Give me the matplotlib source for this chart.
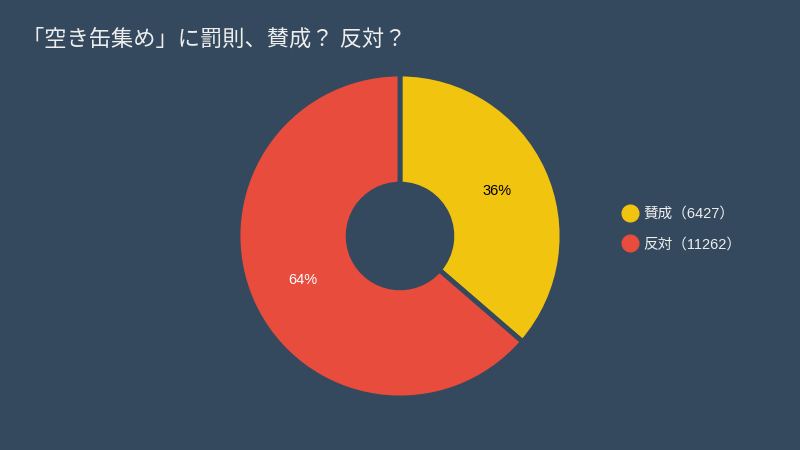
import matplotlib
matplotlib.use("Agg")
import matplotlib.pyplot as plt
from matplotlib.lines import Line2D

plt.rcParams['font.family'] = ['Liberation Sans', 'Noto Sans CJK JP', 'DejaVu Sans']

# data
labels = ["賛成", "反対"]
values = [6427, 11262]
colors = ["#f1c40f", "#e74c3c"]
pct_colors = ["#000000", "#ffffff"]
title = "「空き缶集め」に罰則、賛成？ 反対？"

bg = "#34495e"

fig = plt.figure(figsize=(8, 4.5), dpi=100)
fig.patch.set_facecolor(bg)

ax = fig.add_axes([0.2975, 0.1156, 0.405, 0.72])
ax.set_facecolor(bg)

wedges, texts, autotexts = ax.pie(
    values, colors=colors, startangle=90, counterclock=False,
    radius=1, autopct="%1.0f%%", pctdistance=0.66,
    wedgeprops=dict(width=0.68, edgecolor=bg, linewidth=3.5),
    textprops=dict(fontsize=10.5),
)
for t, c in zip(autotexts, pct_colors):
    t.set_color(c)
ax.set_xlim(-1, 1)
ax.set_ylim(-1, 1)
ax.set_aspect("equal")
ax.axis("off")

fig.text(0.028, 0.911, title, fontsize=16, color="#eeeeee",
         ha="left", va="center")

handles = [Line2D([], [], marker="o", linestyle="", markersize=12,
                  markerfacecolor=c, markeredgecolor=c) for c in colors]
leg_labels = [f"{l}（{v}）" for l, v in zip(labels, values)]
leg = fig.legend(handles, leg_labels, loc="center left",
                 bbox_to_anchor=(0.769, 0.491), frameon=False,
                 fontsize=10.5, handlelength=1.0, handletextpad=0.4,
                 labelspacing=1.15, borderpad=0)
for t in leg.get_texts():
    t.set_color("#eeeeee")

fig.savefig("out.png", dpi=100, facecolor=bg)
